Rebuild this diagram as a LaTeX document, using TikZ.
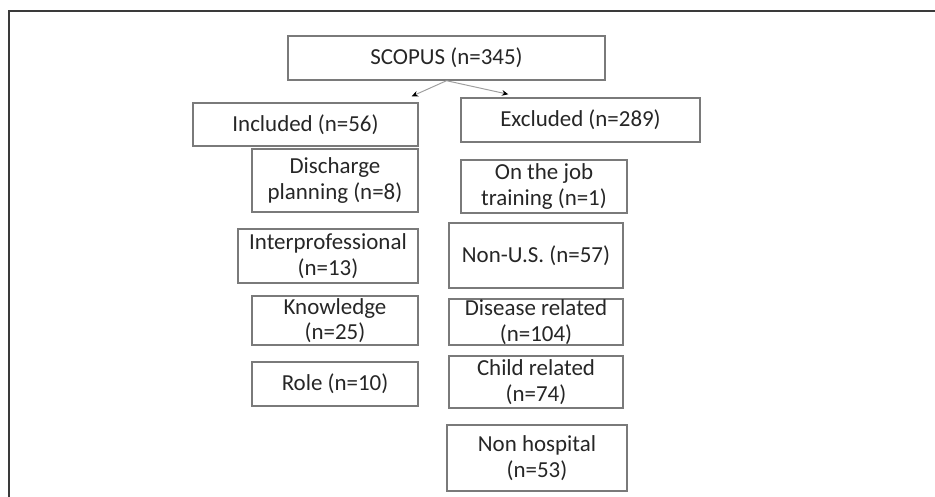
\documentclass[tikz,border=0pt]{standalone}
\usepackage{fontspec}
\setmainfont{Carlito}
\usetikzlibrary{arrows.meta,calc}
\definecolor{boxgray}{HTML}{7A7A7A}
\definecolor{framegray}{HTML}{3A3A3A}
\definecolor{txtgray}{HTML}{262626}

\begin{document}
\begin{tikzpicture}[x=0.025cm, y=-0.025cm,
    >={Stealth[length=4.5pt,width=4pt,color=black]},
    font=\fontsize{16.3}{18.1}\selectfont,
    box/.style={draw=boxgray, line width=1pt, align=center,
      inner sep=0pt, text=txtgray},
    arr/.style={->, gray!75, line width=0.7pt}]
  %% Page area and frame (pixel units)
  \useasboundingbox (0,0) rectangle (935,497);
  \draw[framegray, line width=1.4pt] (9,497) -- (9,11) -- (935,11);

  %% Source
  \node[box, minimum width=7.925cm, minimum height=1.1cm]
    (scopus) at (446.5,58) {SCOPUS (n=345)};

  %% Split
  \node[box, minimum width=5.625cm, minimum height=1.075cm]
    (incl) at (305.5,124.5) {Included (n=56)};
  \node[box, minimum width=5.975cm, minimum height=1.1cm]
    (excl) at (580.5,120) {Excluded (n=289)};
  \draw[arr] (scopus.south) -- ($(incl.north east)+(-7,-6)$);
  \draw[arr] (scopus.south) -- ($(excl.north west)+(48,-3)$);

  %% Included column
  \node[box, minimum width=4.15cm, minimum height=1.575cm]
    (disch) at (335,180.5) {Discharge\\planning (n=8)};
  \node[box, minimum width=4.5cm, minimum height=1.35cm]
    (interp) at (328,256) {Interprofessional\\(n=13)};
  \node[box, minimum width=4.15cm, minimum height=1.225cm]
    (knowl) at (335,320.5) {Knowledge\\(n=25)};
  \node[box, minimum width=4.15cm, minimum height=1.1cm]
    (role) at (335,384) {Role (n=10)};

  %% Excluded column
  \node[box, minimum width=4.15cm, minimum height=1.325cm]
    (job) at (544,186.5) {On the job\\training (n=1)};
  \node[box, minimum width=4.35cm, minimum height=1.625cm]
    (nonus) at (536,255.5) {Non-U.S. (n=57)};
  \node[box, minimum width=4.35cm, minimum height=1.15cm]
    (disease) at (536,322) {Disease related\\(n=104)};
  \node[box, minimum width=4.35cm, minimum height=1.3cm]
    (child) at (536,382) {Child related\\(n=74)};
  \node[box, minimum width=4.5cm, minimum height=1.65cm]
    (nonhosp) at (537,458) {Non hospital\\(n=53)};
\end{tikzpicture}
\end{document}
